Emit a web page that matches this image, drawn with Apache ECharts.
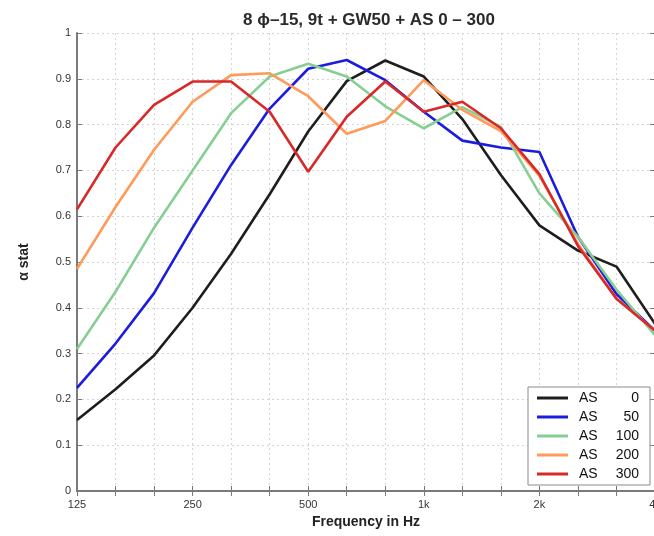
<!DOCTYPE html>
<html>
<head>
<meta charset="utf-8">
<script src="https://cdn.jsdelivr.net/npm/echarts@6/dist/echarts.min.js"></script>
<style>html,body{margin:0;padding:0;background:#fff}#c{width:654px;height:536px}</style>
</head>
<body>
<div id="c"></div>
<script>
const freqs = ['125','160','200','250','315','400','500','630','800','1k','1.25k','1.6k','2k','2.5k','3.15k','4k'];
const shownLabels = ['125','250','500','1k','2k','4k'];
const yTicks = [0,0.1,0.2,0.3,0.4,0.5,0.6,0.7,0.8,0.9,1];

const as0   = [0.155,0.222,0.296,0.400,0.518,0.648,0.785,0.895,0.940,0.905,0.812,0.690,0.580,0.525,0.490,0.365];
const as50  = [0.225,0.322,0.432,0.575,0.712,0.835,0.922,0.941,0.897,0.828,0.765,0.750,0.740,0.555,0.430,0.350];
const as100 = [0.310,0.435,0.575,0.700,0.825,0.905,0.933,0.905,0.840,0.792,0.838,0.795,0.650,0.555,0.440,0.340];
const as200 = [0.485,0.620,0.745,0.850,0.908,0.912,0.862,0.780,0.808,0.897,0.832,0.786,0.688,0.540,0.420,0.350];
const as300 = [0.615,0.750,0.843,0.894,0.894,0.828,0.697,0.817,0.894,0.828,0.850,0.792,0.692,0.535,0.420,0.350];

const seriesNames = ['AS 0','AS 50','AS 100','AS 200','AS 300'];
const seriesData = [as0, as50, as100, as200, as300];
const colors = ['#1e1e1e','#1c1ce0','#86cf92','#ff9a5a','#d82828'];

const font = 'Liberation Sans, Arial, sans-serif';
const chart = echarts.init(document.getElementById('c'));
const axisGrey = '#7a7a7a';

chart.setOption({
  animation: false,
  backgroundColor: '#fff',
  title: {
    text: '8 \u03d5\u201315, 9t + GW50 + AS 0 \u2013 300',
    left: 364, textAlign: 'center', top: 7,
    textStyle: {fontFamily: font, fontSize: 17, fontWeight: 'bold', color: '#2a2a2a'}
  },
  grid: {left: 77, top: 33, width: 578, height: 458, outerBoundsMode: 'none', containLabel: false},
  legend: {
    orient: 'vertical', right: 4, top: 387,
    data: seriesNames,
    icon: 'rect', itemWidth: 31, itemHeight: 3, itemGap: 5,
    backgroundColor: '#fff', borderColor: '#8a8a8a', borderWidth: 1,
    padding: [4, 11, 4, 9],
    textStyle: {
      fontFamily: font, fontSize: 14, color: '#111',
      rich: {a: {fontFamily: font, fontSize: 14, color: '#111', width: 28, padding: [0, 0, 0, 6]},
             b: {fontFamily: font, fontSize: 14, color: '#111', width: 32, align: 'right'}}
    },
    formatter: n => '{a|AS}{b|' + n.split(' ')[1] + '}'
  },
  xAxis: [{
    type: 'category', data: freqs, boundaryGap: false,
    name: 'Frequency in Hz', nameLocation: 'middle', nameGap: 24,
    nameTextStyle: {fontFamily: font, fontSize: 14, fontWeight: 'bold', color: '#222'},
    axisLine: {lineStyle: {color: axisGrey, width: 2}},
    axisTick: {inside: true, length: 5, interval: 0, lineStyle: {color: axisGrey}},
    axisLabel: {fontFamily: font, fontSize: 11, color: '#333', margin: 8,
      interval: (i, v) => shownLabels.indexOf(v) >= 0},
    splitLine: {show: true, interval: 0, lineStyle: {color: '#d4d4d4', type: [2, 3], width: 1}}
  }, {
    type: 'category', data: freqs, boundaryGap: false, position: 'top',
    axisLine: {lineStyle: {color: axisGrey, width: 2}},
    axisTick: {inside: true, length: 5, interval: 0, lineStyle: {color: axisGrey}},
    axisLabel: {show: false}, splitLine: {show: false}
  }],
  yAxis: [{
    type: 'value', min: 0, max: 1, interval: 0.1,
    name: '\u03b1 stat', nameLocation: 'middle', nameGap: 46, nameRotate: 90,
    nameTextStyle: {fontFamily: font, fontSize: 14, fontWeight: 'bold', color: '#222'},
    axisLine: {show: true, lineStyle: {color: axisGrey, width: 2}},
    axisTick: {show: true, inside: true, length: 5, lineStyle: {color: axisGrey}},
    axisLabel: {fontFamily: font, fontSize: 11, color: '#333', margin: 6,
      formatter: v => { const t = yTicks.find(x => Math.abs(x - v) < 1e-6); return t === undefined ? '' : String(t); }},
    splitLine: {show: true, lineStyle: {color: '#d4d4d4', type: [2, 3], width: 1}}
  }, {
    type: 'value', min: 0, max: 1, interval: 0.1, position: 'right',
    axisLine: {show: true, lineStyle: {color: axisGrey, width: 2}},
    axisTick: {show: true, inside: true, length: 5, lineStyle: {color: axisGrey}},
    axisLabel: {show: false}, splitLine: {show: false}
  }],
  series: seriesNames.map((n, k) => ({
    name: n, type: 'line', data: seriesData[k], symbol: 'none',
    lineStyle: {color: colors[k], width: 2.6}, itemStyle: {color: colors[k]},
    z: 2 + k
  }))
});
</script>
</body>
</html>
